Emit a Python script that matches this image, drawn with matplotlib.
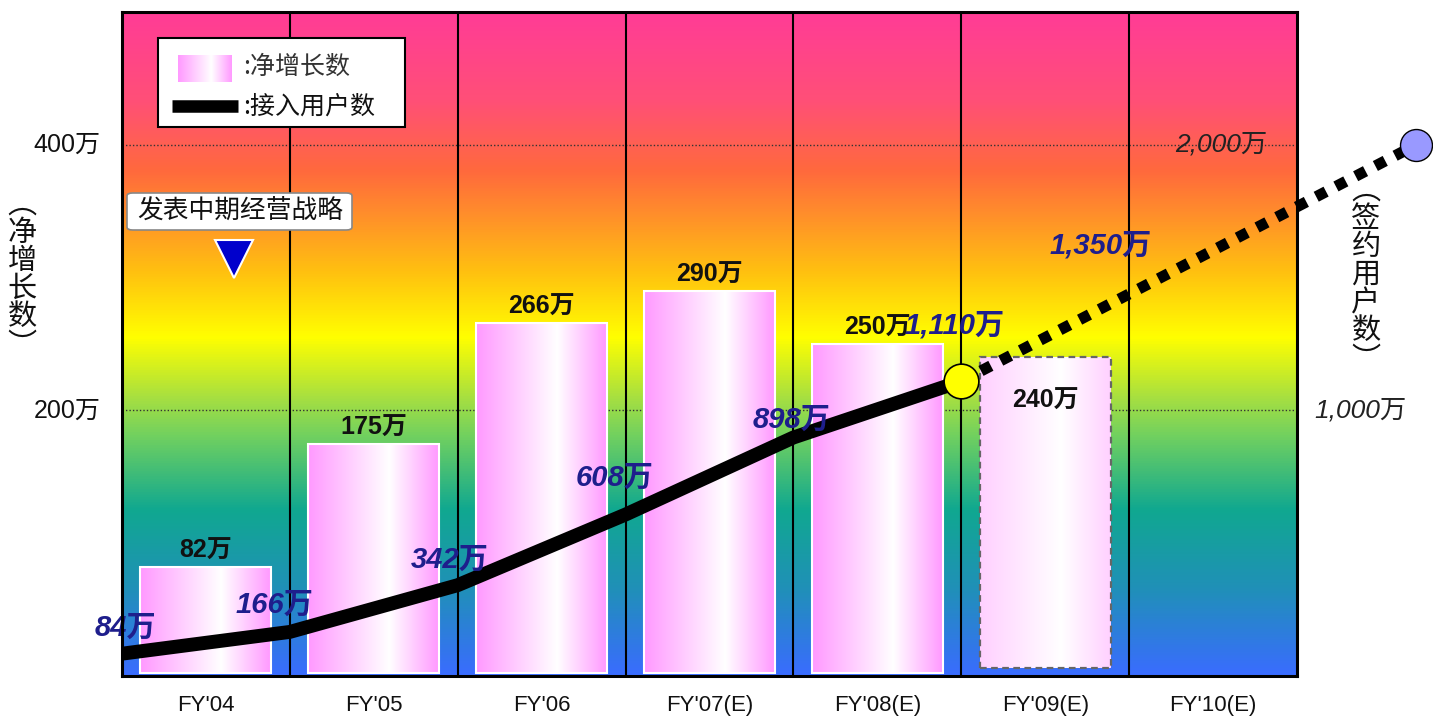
import numpy as np
import matplotlib
matplotlib.use("Agg")
import matplotlib.pyplot as plt
from matplotlib.colors import LinearSegmentedColormap
from matplotlib.patches import FancyBboxPatch

plt.rcParams['font.family'] = ['Liberation Sans', 'Noto Sans CJK SC', 'DejaVu Sans']

# ---------------- data ----------------
categories = ["FY'04", "FY'05", "FY'06", "FY'07(E)", "FY'08(E)", "FY'09(E)", "FY'10(E)"]
net_adds = [82, 175, 266, 290, 250, 240]          # 万, bars (last one is a forecast)
net_add_labels = ["82万", "175万", "266万", "290万", "250万", "240万"]
subs_x = [0, 1, 2, 3, 4, 5]                        # column boundaries
subscribers = [84, 166, 342, 608, 898, 1110]       # 万, right axis
subs_labels = ["84万", "166万", "342万", "608万", "898万", "1,110万"]
target_x = 7.71
target_value = 2000
mid_label = "1,350万"
left_ticks = [200, 400]
left_tick_labels = ["200万", "400万"]
right_ticks = [1000, 2000]
right_tick_labels = ["1,000万", "2,000万"]
RATIO = 5  # right axis / left axis

W, H = 1433, 718
fig = plt.figure(figsize=(W / 100, H / 100), dpi=100)
ax = fig.add_axes([122 / W, 1 - 676 / H, (1297 - 122) / W, (676 - 12) / H])
ax.set_xlim(0, 7)
ax.set_ylim(0, 500)

# background gradient
stops = [(0.0, '#ff3c96'), (0.13, '#ff4f78'), (0.24, '#ff6a3c'), (0.30, '#ff8c2c'),
         (0.39, '#ffc010'), (0.49, '#ffff00'), (0.58, '#a8e040'), (0.64, '#70d060'),
         (0.75, '#10a890'), (0.87, '#2090b8'), (1.0, '#3a6cff')]
bg_cmap = LinearSegmentedColormap.from_list('bg', stops)
grad = np.linspace(0, 1, 512).reshape(-1, 1)
ax.imshow(grad, cmap=bg_cmap, extent=(0, 7, 0, 500), aspect='auto', zorder=0, origin='upper')

# grid
for v in left_ticks:
    ax.axhline(v, color='#333333', lw=1.0, ls=(0, (1, 1.5)), zorder=1)
for i in range(1, 7):
    ax.axvline(i, color='black', lw=1.5, zorder=1)

# bars with horizontal pink-white gradient
bar_cmap = LinearSegmentedColormap.from_list('bar', [(0, '#ff99ff'), (0.62, '#ffffff'), (1, '#ff99ff')])
bar_cmap_f = LinearSegmentedColormap.from_list('barf', [(0, '#ffd0ff'), (0.62, '#ffffff'), (1, '#ffd0ff')])
hgrad = np.linspace(0, 1, 256).reshape(1, -1)
xs = np.arange(len(net_adds)) + 0.5
bars = ax.bar(xs, net_adds, width=0.78, color='none', zorder=3)
for i, (b, v) in enumerate(zip(bars, net_adds)):
    x0, w, h = b.get_x(), b.get_width(), b.get_height()
    forecast = i == len(net_adds) - 1
    bottom = 6 if forecast else 2
    cm = bar_cmap_f if forecast else bar_cmap
    im = ax.imshow(hgrad, cmap=cm, extent=(x0, x0 + w, bottom, h), aspect='auto', zorder=2)
    b.set_y(bottom)
    b.set_height(h - bottom)
    if forecast:
        b.set_edgecolor('#666666')
        b.set_linestyle((0, (3, 2)))
        b.set_linewidth(1.6)
    else:
        b.set_edgecolor('white')
        b.set_linewidth(1.5)
    im.set_clip_path(b)
    if forecast:
        ax.text(b.get_x() + w / 2, h - 33, net_add_labels[i], ha='center', va='center',
                fontsize=18, fontweight='bold', color='#111111', zorder=6)
    else:
        ax.text(b.get_x() + w / 2, h + 3, net_add_labels[i], ha='center', va='bottom',
                fontsize=18, fontweight='bold', color='#111111', zorder=6)

# subscriber line (left scale units = value / RATIO)
sub_y = [v / RATIO for v in subscribers]
ax.plot(subs_x, sub_y, color='black', lw=10, solid_capstyle='butt', zorder=4, clip_on=False)
ax.plot([subs_x[-1], target_x], [sub_y[-1], target_value / RATIO], color='black', lw=8,
        ls=(0, (1, 1)), dash_capstyle='butt', zorder=4, clip_on=False)
ax.plot(subs_x[-1], sub_y[-1], 'o', ms=25, mfc='#ffff00', mec='black', mew=1.2, zorder=5)
ax.plot(target_x, target_value / RATIO, 'o', ms=23, mfc='#9999ff', mec='black', mew=1.0,
        zorder=5, clip_on=False)

# subscriber labels
lab_pos = [(0.018, 36), (0.911, 53.5), (1.954, 87.3), (2.937, 149), (3.99, 193), (4.96, 264)]
for (lx, ly), t in zip(lab_pos, subs_labels):
    ax.text(lx, ly, t, ha='center', va='center', fontsize=21, fontstyle='italic',
            fontweight='bold', color='#1e1e8c', zorder=6, clip_on=False)
ax.text(5.83, 324, mid_label, ha='center', va='center', fontsize=21, fontstyle='italic',
        fontweight='bold', color='#1e1e8c', zorder=6)

# ticks
ax.set_xticks([])
ax.set_yticks([])
for v, t in zip(left_ticks, left_tick_labels):
    ax.text(-0.13, v, t, ha='right', va='center', fontsize=18, color='#111111', clip_on=False)
ax.text(6.55, right_ticks[1] / RATIO, right_tick_labels[1], ha='center', va='center',
        fontsize=19, fontstyle='italic', color='#222222', zorder=6)
ax.text(7.38, right_ticks[0] / RATIO, right_tick_labels[0], ha='center', va='center',
        fontsize=19, fontstyle='italic', color='#222222', clip_on=False)
for i, c in enumerate(categories):
    ax.text(i + 0.5, -22, c, ha='center', va='center', fontsize=16, color='#111111', clip_on=False)

for s in ax.spines.values():
    s.set_color('black')
    s.set_linewidth(2.2)
    s.set_zorder(7)

# axis titles (vertical stacked)
fig.text(22 / W, 1 - 275 / H, "︵\n净\n增\n长\n数\n︶", ha='center', va='center', fontsize=21,
         linespacing=0.92, family=['Noto Sans CJK SC', 'DejaVu Sans'], color='#111111')
fig.text(1366 / W, 1 - 275 / H, "︵\n签\n约\n用\n户\n数\n︶", ha='center', va='center', fontsize=21,
         linespacing=0.92, family=['Noto Sans CJK SC', 'DejaVu Sans'], color='#111111')

# legend box
lg = FancyBboxPatch((158 / W, 1 - 127 / H), (405 - 158) / W, (127 - 38) / H, boxstyle='square,pad=0',
                    transform=fig.transFigure, facecolor='white', edgecolor='black', lw=1.5, zorder=8)
fig.add_artist(lg)
lax = fig.add_axes([178 / W, 1 - 82 / H, (232 - 178) / W, (82 - 55) / H], zorder=9)
lax.imshow(hgrad, cmap=bar_cmap, aspect='auto')
lax.axis('off')
fig.add_artist(plt.Line2D([172 / W, 238 / W], [1 - 106 / H, 1 - 106 / H], transform=fig.transFigure,
                          color='black', lw=9, solid_capstyle='butt', zorder=9))
fig.text(243 / W, 1 - 67 / H, ":净增长数", ha='left', va='center', fontsize=18,
         family=['Noto Sans CJK SC'], color='#333333', zorder=9)
fig.text(243 / W, 1 - 107 / H, ":接入用户数", ha='left', va='center', fontsize=18,
         family=['Noto Sans CJK SC'], color='#111111', zorder=9)

# annotation box
ab = FancyBboxPatch((127 / W, 1 - 230 / H), (352 - 127) / W, (230 - 193) / H,
                    boxstyle='round,pad=0,rounding_size=0.004', transform=fig.transFigure,
                    facecolor='white', edgecolor='#888888', lw=1.2, zorder=8)
fig.add_artist(ab)
fig.text(240 / W, 1 - 211 / H, "发表中期经营战略", ha='center', va='center', fontsize=18.5,
         family=['Noto Sans CJK SC'], color='#111111', zorder=9)
ax.plot(0.67, 314, 'v', ms=27, mfc='#0000cc', mec='white', mew=1.5, zorder=6)

fig.savefig('out.png', dpi=100)
